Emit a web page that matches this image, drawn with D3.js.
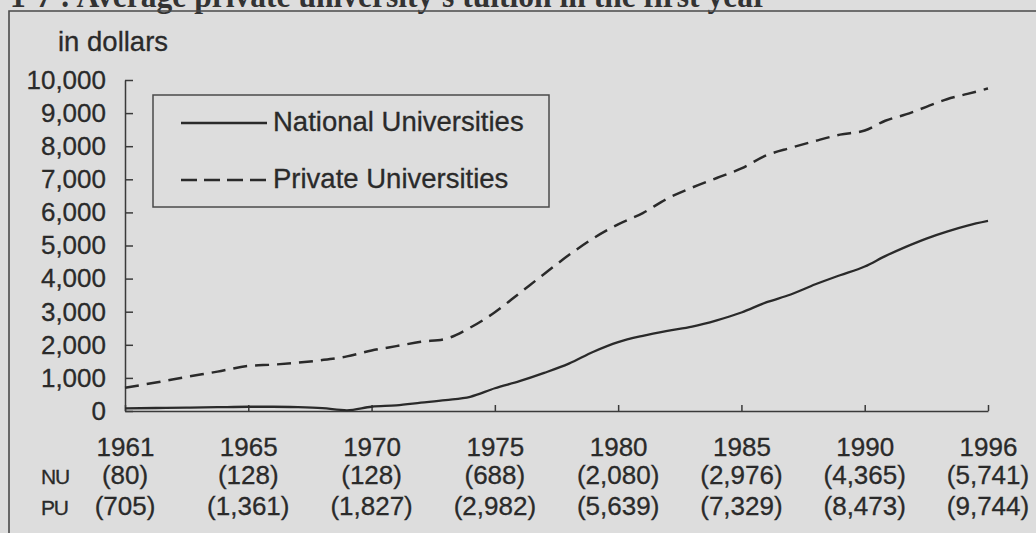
<!DOCTYPE html>
<html><head><meta charset="utf-8">
<script src="https://cdn.jsdelivr.net/npm/d3@7"></script>
<style>html,body{margin:0;padding:0;background:#dddddd;} svg{display:block;}</style>
</head><body><svg id="chart" width="1036" height="533"></svg>
<script>
// ---- data ----
const categories = ["1961", "1965", "1970", "1975", "1980", "1985", "1990", "1996"];
const nuLabelValues = [80, 128, 128, 688, 2080, 2976, 4365, 5741];
const puLabelValues = [705, 1361, 1827, 2982, 5639, 7329, 8473, 9744];
const yTicks = [0, 1000, 2000, 3000, 4000, 5000, 6000, 7000, 8000, 9000, 10000];
const seriesNames = ["National Universities", "Private Universities"];
const rowNames = ["NU", "PU"];
const titleText = "1-7 : Average private university's tuition in the first year";
const unitText = "in dollars";
// yearly values
const lineYears = [1961,1962,1963,1964,1965,1966,1967,1968,1969,1970,1971,1972,1973,1974,1975,1976,1977,1978,
                   1979,1980,1981,1982,1983,1984,1985,1986,1987,1988,1989,1990,1991,1992,1993,1994,1995,1996];
const nuLine = [80,90,100,115,128,128,115,85,20,128,170,250,330,430,688,900,1150,1430,
                1790,2080,2270,2420,2550,2740,2976,3280,3520,3830,4100,4365,4680,4960,5210,5420,5600,5741];
const puLine = [705,860,1030,1190,1361,1400,1460,1540,1650,1827,1960,2090,2180,2520,2982,3560,4140,4710,
                5220,5639,5980,6420,6750,7040,7329,7720,7950,8160,8350,8473,8770,8960,9190,9420,9580,9744];

// ---- layout ----
const svg = d3.select("#chart");
const W = 1036, H = 533;
const ink = "#2a2a2a";
const sans = "'Liberation Sans', Arial, Helvetica, sans-serif";

svg.append("rect").attr("width", W).attr("height", H).attr("fill", "#dddddd");

// title (its top is cut off by the page edge in the scan)
svg.append("text")
  .attr("x", 10).attr("y", 7)
  .attr("font-family", "'Liberation Serif', 'Times New Roman', serif")
  .attr("font-weight", "bold")
  .attr("font-size", 34)
  .attr("textLength", 757).attr("lengthAdjust", "spacingAndGlyphs")
  .attr("fill", "#333")
  .text(titleText);

// frame
svg.append("path").attr("d", `M9,${H} L9,11 L${W},11`)
  .attr("fill", "none").attr("stroke", "#4a4a4a").attr("stroke-width", 1.6);

const x = d3.scalePoint().domain(categories).range([125, 988]);
const xYear = d3.scaleLinear().domain(categories.map(Number)).range(categories.map(c => x(c)));
const y = d3.scaleLinear().domain([0, 10000]).range([411, 80]);

// y axis
const yAxis = svg.append("g").attr("transform", "translate(125,0)")
  .call(d3.axisLeft(y).tickValues(yTicks).tickSize(-8).tickSizeOuter(0).tickPadding(19).tickFormat(d3.format(",")));
// x axis
const xAxis = svg.append("g").attr("transform", "translate(0,411)")
  .call(d3.axisBottom(x).tickSize(-6).tickSizeOuter(0).tickPadding(27));

[yAxis, xAxis].forEach(g => {
  g.selectAll("path,line").attr("stroke", "#3a3a3a").attr("stroke-width", 1.5);
  g.selectAll("text").attr("font-family", sans).attr("font-size", 26).attr("fill", ink)
    .attr("stroke", ink).attr("stroke-width", 0.3);
});

// unit label
svg.append("text").attr("x", 58).attr("y", 51)
  .attr("font-family", sans).attr("font-size", 27.5).attr("fill", ink)
  .attr("stroke", ink).attr("stroke-width", 0.3).text(unitText);

// lines
const line = d3.line()
  .x((d, i) => xYear(lineYears[i]))
  .y(d => y(d))
  .curve(d3.curveMonotoneX);

svg.append("path").datum(nuLine).attr("d", line)
  .attr("fill", "none").attr("stroke", ink).attr("stroke-width", 2.3);
svg.append("path").datum(puLine).attr("d", line)
  .attr("fill", "none").attr("stroke", ink).attr("stroke-width", 2.5)
  .attr("stroke-dasharray", "14,8");

// value rows under the axis
const fmt = d3.format(",");
[nuLabelValues, puLabelValues].forEach((vals, r) => {
  const by = r === 0 ? 484 : 515;
  svg.append("text").attr("x", 41).attr("y", by)
    .attr("font-family", sans).attr("font-size", 21).attr("letter-spacing", -1.2)
    .attr("fill", ink).attr("stroke", ink).attr("stroke-width", 0.3).text(rowNames[r]);
  svg.append("g").selectAll("text").data(vals).join("text")
    .attr("x", (d, i) => x(categories[i]))
    .attr("y", by)
    .attr("text-anchor", "middle")
    .attr("font-family", sans).attr("font-size", 26).attr("fill", ink)
    .attr("stroke", ink).attr("stroke-width", 0.3)
    .text(d => "(" + fmt(d) + ")");
});

// legend
const lg = svg.append("g");
lg.append("rect").attr("x", 153).attr("y", 95).attr("width", 396).attr("height", 112)
  .attr("fill", "none").attr("stroke", "#4a4a4a").attr("stroke-width", 1.5);
seriesNames.forEach((name, i) => {
  const ly = i === 0 ? 123 : 180;
  lg.append("line").attr("x1", 181).attr("x2", 267).attr("y1", ly).attr("y2", ly)
    .attr("stroke", ink).attr("stroke-width", 2.3)
    .attr("stroke-dasharray", i === 0 ? null : "16,7");
  lg.append("text").attr("x", 273).attr("y", ly + 8)
    .attr("font-family", sans).attr("font-size", 27.5).attr("fill", ink)
    .attr("stroke", ink).attr("stroke-width", 0.3).text(name);
});
</script></body></html>
